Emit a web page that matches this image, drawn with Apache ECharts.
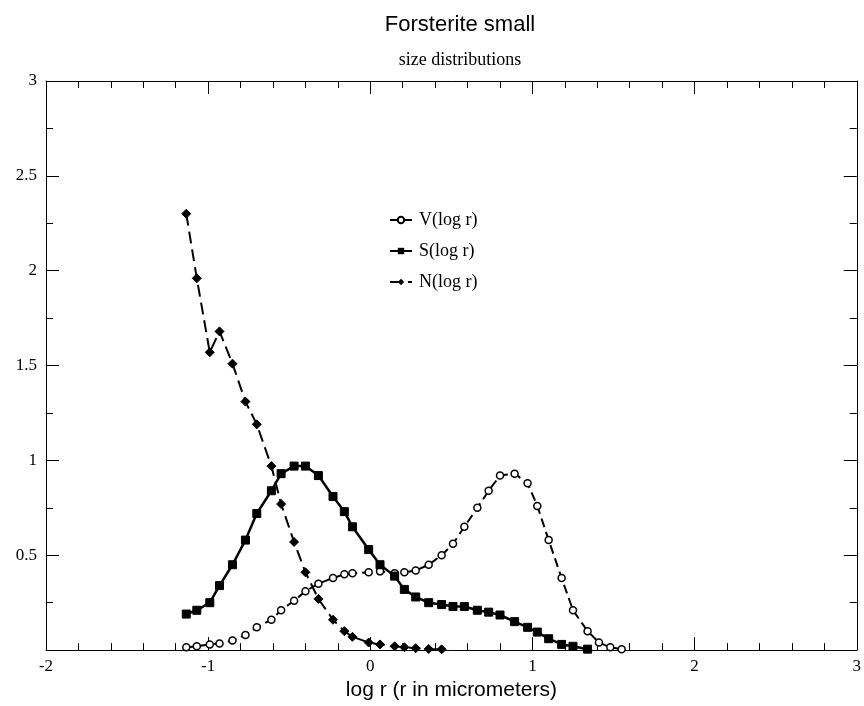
<!DOCTYPE html>
<html>
<head>
<meta charset="utf-8">
<script src="https://cdn.jsdelivr.net/npm/echarts@6/dist/echarts.min.js"></script>
<style>
  html, body { margin: 0; padding: 0; background: #fff; }
  #chart { width: 864px; height: 706px; }
</style>
</head>
<body>
<div id="chart"></div>
<script>
// log r grid shared by the three curves
var logR = [-1.135, -1.07, -0.99, -0.93, -0.85, -0.77, -0.70, -0.61, -0.55, -0.47,
  -0.40, -0.32, -0.23, -0.16, -0.11, -0.01, 0.06, 0.15, 0.21, 0.28,
  0.36, 0.44, 0.51, 0.58, 0.66, 0.73, 0.80, 0.89, 0.97, 1.03,
  1.10, 1.18, 1.25, 1.34, 1.41, 1.48, 1.55]
var vValues = [0.015, 0.02, 0.03, 0.035, 0.05, 0.08, 0.12, 0.16, 0.21, 0.26,
  0.31, 0.35, 0.38, 0.40, 0.405, 0.41, 0.415, 0.405, 0.41, 0.42,
  0.45, 0.50, 0.56, 0.65, 0.75, 0.84, 0.92, 0.93, 0.88, 0.76,
  0.58, 0.38, 0.21, 0.10, 0.04, 0.015, 0.005]
var sValues = [0.19, 0.21, 0.25, 0.34, 0.45, 0.58, 0.72, 0.84, 0.93, 0.97,
  0.97, 0.92, 0.81, 0.73, 0.65, 0.53, 0.45, 0.39, 0.32, 0.28,
  0.25, 0.24, 0.23, 0.23, 0.21, 0.20, 0.185, 0.15, 0.12, 0.095,
  0.06, 0.03, 0.02, 0.005]
var nValues = [2.30, 1.96, 1.57, 1.68, 1.51, 1.31, 1.19, 0.97, 0.77, 0.57,
  0.41, 0.27, 0.16, 0.10, 0.07, 0.04, 0.03, 0.02, 0.015, 0.01,
  0.006, 0.004]
var seriesNames = ['V(log r)', 'S(log r)', 'N(log r)']
var xTicks = [-2, -1, 0, 1, 2, 3]
var yTicks = [0.5, 1, 1.5, 2, 2.5, 3]

function pairs (vals) {
  return vals.map(function (v, i) { return [logR[i], v] })
}

var serif = '"Liberation Serif", "DejaVu Serif", serif'
var sans = '"Liberation Sans", Arial, sans-serif'

var chart = echarts.init(document.getElementById('chart'))

// one side of the box frame, ticks pointing in
function frameAxis (extra, minorSplit) {
  var base = {
    axisLine: { show: true, onZero: false, lineStyle: { color: '#000', width: 1 } },
    axisTick: { show: true, inside: true, length: 13, lineStyle: { color: '#000', width: 1 } },
    minorTick: { show: true, splitNumber: minorSplit, length: 7, lineStyle: { color: '#000', width: 1 } },
    splitLine: { show: false },
    minorSplitLine: { show: false }
  }
  return Object.assign(base, extra)
}

var option = {
  backgroundColor: '#fff',
  animation: false,
  title: [{
    text: 'Forsterite small',
    left: 455,
    top: 9,
    textAlign: 'center',
    textStyle: { fontFamily: sans, fontSize: 22, fontWeight: 'normal', color: '#000' }
  }, {
    text: 'size distributions',
    left: 455,
    top: 46,
    textAlign: 'center',
    textStyle: { fontFamily: serif, fontSize: 18, fontWeight: 'normal', color: '#000' }
  }],
  legend: {
    orient: 'vertical',
    left: 384,
    top: 206,
    itemWidth: 22,
    itemHeight: 8,
    itemGap: 13,
    data: seriesNames,
    textStyle: { fontFamily: serif, fontSize: 18, color: '#000', padding: [0, 0, 0, 2] }
  },
  grid: { left: 46, right: 3, top: 81, bottom: 54 },
  xAxis: [frameAxis({
    type: 'value', min: -2, max: 3, interval: 1,
    axisLabel: {
      fontFamily: serif, fontSize: 17, color: '#000', margin: 8,
      formatter: function (v) { return xTicks.indexOf(v) >= 0 ? String(v) : '' }
    },
    name: 'log r (r in micrometers)',
    nameLocation: 'middle',
    nameGap: 28,
    nameTextStyle: { fontFamily: sans, fontSize: 21, color: '#000' }
  }, 5), frameAxis({
    type: 'value', min: -2, max: 3, interval: 1, position: 'top',
    axisLabel: { show: false }
  }, 5)],
  yAxis: [frameAxis({
    type: 'value', min: 0, max: 3, interval: 0.5,
    axisLabel: {
      fontFamily: serif, fontSize: 17, color: '#000', margin: 9,
      formatter: function (v) { return yTicks.indexOf(v) >= 0 ? String(v) : '' }
    }
  }, 2), frameAxis({
    type: 'value', min: 0, max: 3, interval: 0.5, position: 'right',
    axisLabel: { show: false }
  }, 2)],
  series: [{
    name: seriesNames[0],
    type: 'line',
    data: pairs(vValues),
    symbol: 'circle',
    symbolSize: 7,
    itemStyle: { color: '#fff', borderColor: '#000', borderWidth: 1.5 },
    lineStyle: { color: '#000', width: 2, type: [9, 5] },
    z: 3
  }, {
    name: seriesNames[1],
    type: 'line',
    data: pairs(sValues),
    symbol: 'rect',
    symbolSize: 8,
    itemStyle: { color: '#000', borderColor: '#000' },
    lineStyle: { color: '#000', width: 2.5, type: 'solid' },
    z: 4
  }, {
    name: seriesNames[2],
    type: 'line',
    data: pairs(nValues),
    symbol: 'diamond',
    symbolSize: 9,
    itemStyle: { color: '#000', borderColor: '#000' },
    lineStyle: { color: '#000', width: 2, type: [12, 6] },
    z: 5
  }]
}

chart.setOption(option)
</script>
</body>
</html>
